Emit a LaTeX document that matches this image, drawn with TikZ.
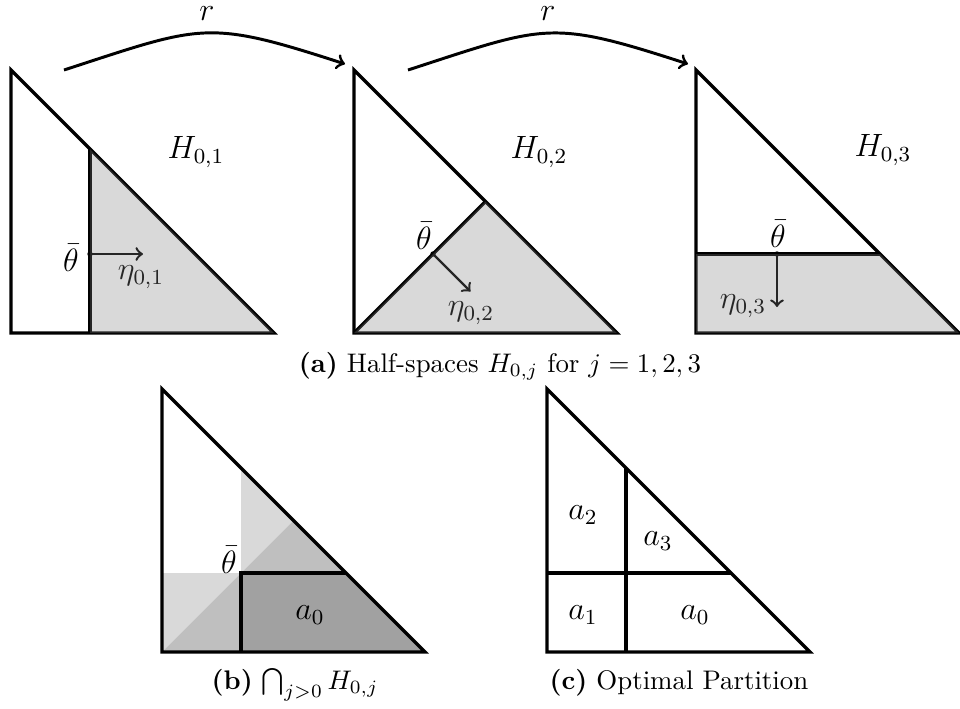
\documentclass[tikz,border=0pt]{standalone}
\begin{document}
\begin{tikzpicture}[x=0.372pt,y=-0.372pt,
  tri/.style={line width=1.2pt, line join=miter},
  half/.style={fill=gray, fill opacity=0.3},
  vec/.style={->, line width=0.9pt},
  rarrow/.style={->, line width=1.1pt},
  lbl/.style={font=\large, inner sep=0pt},
  captext/.style={anchor=base, inner sep=0pt},
  dot/.style={fill=black}]
\definecolor{shL}{RGB}{217,217,217}
\definecolor{shM}{RGB}{191,191,191}
\definecolor{shD}{RGB}{161,161,161}
\useasboundingbox (0,0) rectangle (960,708);

% ---------- triangle 1 ----------
\begin{scope}[shift={(11,333)},yscale=-1]
  \coordinate (t1a) at (0,263);
  \coordinate (t1o) at (0,0);
  \coordinate (t1c) at (263,0);
  \coordinate (t1p) at (79,79);
  \coordinate (t1q) at (79,0);
  \coordinate (t1h) at (79,184);
  \coordinate (t1n) at (132,79);
  \draw[tri] (t1a) -- (t1o) -- (t1c) -- cycle;
  \draw[tri] (t1q) -- (t1h);
  \fill[dot] (t1p) circle[radius=1pt];
  \draw[vec] (t1p) -- (t1n);
\end{scope}
\node[lbl] (th1) at (71,258) {$\bar\theta$};
\node[lbl] (eta1) at (141,277) {$\eta_{0,1}$};
\fill[half] (t1q) -- (t1c) -- (t1h) -- cycle;
\node[lbl] (H1) at (196,152) {$H_{0,1}$};

% ---------- triangle 2 ----------
\begin{scope}[shift={(354,333)},yscale=-1]
  \coordinate (t2a) at (0,263);
  \coordinate (t2o) at (0,0);
  \coordinate (t2c) at (263,0);
  \coordinate (t2p) at (79,79);
  \coordinate (t2m) at (131.5,131.5);
  \coordinate (t2n) at (116.5,41.5);
  \draw[tri] (t2a) -- (t2o) -- (t2c) -- cycle;
  \draw[tri] (t2o) -- (t2m);
  \fill[dot] (t2p) circle[radius=1pt];
  \draw[vec] (t2p) -- (t2n);
\end{scope}
\node[lbl] (th2) at (424,236) {$\bar\theta$};
\node[lbl] (eta2) at (471,313) {$\eta_{0,2}$};
\fill[half] (t2o) -- (t2c) -- (t2m) -- cycle;
\node[lbl] (H2) at (539,152) {$H_{0,2}$};

% ---------- triangle 3 ----------
\begin{scope}[shift={(696,333)},yscale=-1]
  \coordinate (t3a) at (0,263);
  \coordinate (t3o) at (0,0);
  \coordinate (t3c) at (263,0);
  \coordinate (t3l) at (0,79);
  \coordinate (t3r) at (184,79);
  \coordinate (t3p) at (81,79);
  \coordinate (t3n) at (81,26);
  \draw[tri] (t3a) -- (t3o) -- (t3c) -- cycle;
  \draw[tri] (t3l) -- (t3r);
  \fill[dot] (t3p) circle[radius=1pt];
  \draw[vec] (t3p) -- (t3n);
\end{scope}
\node[lbl] (th3) at (778,234) {$\bar\theta$};
\node[lbl] (eta3) at (743,306) {$\eta_{0,3}$};
\fill[half] (t3o) -- (t3c) -- (t3r) -- (t3l) -- cycle;
\node[lbl] (H3) at (883,150) {$H_{0,3}$};

% ---------- arrows r ----------
\coordinate (r1s) at (64,70);
\coordinate (r1e) at (345,64);
\coordinate (r2s) at (408,70);
\coordinate (r2e) at (688,64);
\draw[rarrow] (r1s) to[out=18,in=162,looseness=1.33] (r1e);
\draw[rarrow] (r2s) to[out=18,in=162,looseness=1.33] (r2e);
\node[lbl] (r1) at (207,14) {$r$};
\node[lbl] (r2) at (548,14) {$r$};

\node[captext] (capa) at (500,372) {\textbf{(a)} Half-spaces $H_{0,j}$ for $j=1,2,3$};

% ---------- panel b ----------
\begin{scope}[shift={(162,652)},yscale=-1]
  \coordinate (ba) at (0,263);
  \coordinate (bo) at (0,0);
  \coordinate (bc) at (263,0);
  \coordinate (bp) at (79,79);
  \coordinate (bq) at (79,0);
  \coordinate (bh) at (79,184);
  \coordinate (bm) at (131.5,131.5);
  \coordinate (br) at (184,79);
  \coordinate (bl) at (0,79);
  \fill[shL] (bp) -- (bh) -- (bm) -- cycle;
  \fill[shM] (bp) -- (bm) -- (br) -- cycle;
  \fill[shD] (bq) -- (bc) -- (br) -- (bp) -- cycle;
  \fill[shL] (bo) -- (bl) -- (bp) -- cycle;
  \fill[shM] (bo) -- (bp) -- (bq) -- cycle;
  \draw[tri] (ba) -- (bo) -- (bc) -- cycle;
  \draw[tri] (bq) -- (bp) -- (br);
\end{scope}
\node[lbl] (thb) at (229,560) {$\bar\theta$};
\node[lbl] (ab0) at (310,615) {$a_0$};
\node[captext] (capb) at (295,689) {\textbf{(b)} $\bigcap_{j>0} H_{0,j}$};

% ---------- panel c ----------
\begin{scope}[shift={(547,652)},yscale=-1]
  \coordinate (ca) at (0,263);
  \coordinate (co) at (0,0);
  \coordinate (cc) at (263,0);
  \coordinate (cq) at (79,0);
  \coordinate (ch) at (79,184);
  \coordinate (cl) at (0,79);
  \coordinate (cr) at (184,79);
  \draw[tri] (ca) -- (co) -- (cc) -- cycle;
  \draw[tri] (cq) -- (ch);
  \draw[tri] (cl) -- (cr);
\end{scope}
\node[lbl] (ca2) at (583,515) {$a_2$};
\node[lbl] (ca3) at (658,541) {$a_3$};
\node[lbl] (ca1) at (583,615) {$a_1$};
\node[lbl] (ca0) at (695,615) {$a_0$};
\node[captext] (capc) at (679,689) {\textbf{(c)} Optimal Partition};
\end{tikzpicture}
\end{document}
